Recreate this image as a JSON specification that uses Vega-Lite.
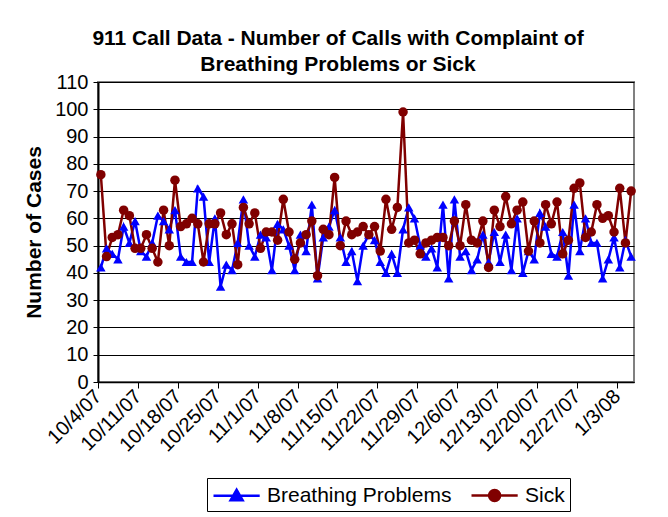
{
  "$schema": "https://vega.github.io/schema/vega-lite/v6.json",
  "autosize": {"type": "none"},
  "padding": {"left": 98, "top": 82, "right": 34, "bottom": 135},
  "width": 536,
  "height": 300,
  "background": "white",
  "title": {
    "text": ["911 Call Data - Number of Calls with Complaint of", "Breathing Problems or Sick"],
    "font": "Liberation Sans",
    "fontSize": 21,
    "fontWeight": "bold",
    "color": "black",
    "anchor": "middle",
    "dx": -28,
    "offset": -3,
    "lineHeight": 26
  },
  "config": {
    "view": {"stroke": "#808080", "strokeWidth": 2},
    "axis": {
      "labelFont": "Liberation Sans",
      "labelFontSize": 20,
      "labelColor": "black",
      "titleFont": "Liberation Sans",
      "titleColor": "black",
      "domainColor": "black",
      "tickColor": "black",
      "gridColor": "black",
      "gridOpacity": 1,
      "gridWidth": 1
    }
  },
  "data": {
    "values": [
      {"date": "2007-10-04", "Breathing Problems": 42, "Sick": 76},
      {"date": "2007-10-05", "Breathing Problems": 49, "Sick": 46},
      {"date": "2007-10-06", "Breathing Problems": 47, "Sick": 53},
      {"date": "2007-10-07", "Breathing Problems": 45, "Sick": 54},
      {"date": "2007-10-08", "Breathing Problems": 57, "Sick": 63},
      {"date": "2007-10-09", "Breathing Problems": 51, "Sick": 61},
      {"date": "2007-10-10", "Breathing Problems": 59, "Sick": 49},
      {"date": "2007-10-11", "Breathing Problems": 48, "Sick": 49},
      {"date": "2007-10-12", "Breathing Problems": 46, "Sick": 54},
      {"date": "2007-10-13", "Breathing Problems": 51, "Sick": 49},
      {"date": "2007-10-14", "Breathing Problems": 61, "Sick": 44},
      {"date": "2007-10-15", "Breathing Problems": 59, "Sick": 63},
      {"date": "2007-10-16", "Breathing Problems": 56, "Sick": 50},
      {"date": "2007-10-17", "Breathing Problems": 63, "Sick": 74},
      {"date": "2007-10-18", "Breathing Problems": 46, "Sick": 57},
      {"date": "2007-10-19", "Breathing Problems": 44, "Sick": 58},
      {"date": "2007-10-20", "Breathing Problems": 44, "Sick": 60},
      {"date": "2007-10-21", "Breathing Problems": 71, "Sick": 58},
      {"date": "2007-10-22", "Breathing Problems": 68, "Sick": 44},
      {"date": "2007-10-23", "Breathing Problems": 44, "Sick": 58},
      {"date": "2007-10-24", "Breathing Problems": 60, "Sick": 58},
      {"date": "2007-10-25", "Breathing Problems": 35, "Sick": 62},
      {"date": "2007-10-26", "Breathing Problems": 43, "Sick": 54},
      {"date": "2007-10-27", "Breathing Problems": 41, "Sick": 58},
      {"date": "2007-10-28", "Breathing Problems": 51, "Sick": 43},
      {"date": "2007-10-29", "Breathing Problems": 67, "Sick": 64},
      {"date": "2007-10-30", "Breathing Problems": 50, "Sick": 58},
      {"date": "2007-10-31", "Breathing Problems": 46, "Sick": 62},
      {"date": "2007-11-01", "Breathing Problems": 54, "Sick": 49},
      {"date": "2007-11-02", "Breathing Problems": 53, "Sick": 55},
      {"date": "2007-11-03", "Breathing Problems": 41, "Sick": 55},
      {"date": "2007-11-04", "Breathing Problems": 58, "Sick": 52},
      {"date": "2007-11-05", "Breathing Problems": 56, "Sick": 67},
      {"date": "2007-11-06", "Breathing Problems": 50, "Sick": 55},
      {"date": "2007-11-07", "Breathing Problems": 41, "Sick": 45},
      {"date": "2007-11-08", "Breathing Problems": 54, "Sick": 51},
      {"date": "2007-11-09", "Breathing Problems": 48, "Sick": 54},
      {"date": "2007-11-10", "Breathing Problems": 65, "Sick": 59},
      {"date": "2007-11-11", "Breathing Problems": 38, "Sick": 39},
      {"date": "2007-11-12", "Breathing Problems": 53, "Sick": 56},
      {"date": "2007-11-13", "Breathing Problems": 57, "Sick": 54},
      {"date": "2007-11-14", "Breathing Problems": 63, "Sick": 75},
      {"date": "2007-11-15", "Breathing Problems": 53, "Sick": 50},
      {"date": "2007-11-16", "Breathing Problems": 44, "Sick": 59},
      {"date": "2007-11-17", "Breathing Problems": 48, "Sick": 54},
      {"date": "2007-11-18", "Breathing Problems": 37, "Sick": 55},
      {"date": "2007-11-19", "Breathing Problems": 50, "Sick": 57},
      {"date": "2007-11-20", "Breathing Problems": 54, "Sick": 54},
      {"date": "2007-11-21", "Breathing Problems": 52, "Sick": 57},
      {"date": "2007-11-22", "Breathing Problems": 44, "Sick": 48},
      {"date": "2007-11-23", "Breathing Problems": 40, "Sick": 67},
      {"date": "2007-11-24", "Breathing Problems": 47, "Sick": 56},
      {"date": "2007-11-25", "Breathing Problems": 40, "Sick": 64},
      {"date": "2007-11-26", "Breathing Problems": 56, "Sick": 99},
      {"date": "2007-11-27", "Breathing Problems": 64, "Sick": 51},
      {"date": "2007-11-28", "Breathing Problems": 60, "Sick": 52},
      {"date": "2007-11-29", "Breathing Problems": 50, "Sick": 47},
      {"date": "2007-11-30", "Breathing Problems": 46, "Sick": 51},
      {"date": "2007-12-01", "Breathing Problems": 49, "Sick": 52},
      {"date": "2007-12-02", "Breathing Problems": 42, "Sick": 53},
      {"date": "2007-12-03", "Breathing Problems": 65, "Sick": 53},
      {"date": "2007-12-04", "Breathing Problems": 38, "Sick": 50},
      {"date": "2007-12-05", "Breathing Problems": 67, "Sick": 59},
      {"date": "2007-12-06", "Breathing Problems": 46, "Sick": 50},
      {"date": "2007-12-07", "Breathing Problems": 48, "Sick": 65},
      {"date": "2007-12-08", "Breathing Problems": 41, "Sick": 52},
      {"date": "2007-12-09", "Breathing Problems": 45, "Sick": 51},
      {"date": "2007-12-10", "Breathing Problems": 54, "Sick": 59},
      {"date": "2007-12-11", "Breathing Problems": 44, "Sick": 42},
      {"date": "2007-12-12", "Breathing Problems": 55, "Sick": 63},
      {"date": "2007-12-13", "Breathing Problems": 44, "Sick": 57},
      {"date": "2007-12-14", "Breathing Problems": 54, "Sick": 68},
      {"date": "2007-12-15", "Breathing Problems": 41, "Sick": 58},
      {"date": "2007-12-16", "Breathing Problems": 60, "Sick": 63},
      {"date": "2007-12-17", "Breathing Problems": 40, "Sick": 66},
      {"date": "2007-12-18", "Breathing Problems": 48, "Sick": 48},
      {"date": "2007-12-19", "Breathing Problems": 45, "Sick": 59},
      {"date": "2007-12-20", "Breathing Problems": 62, "Sick": 51},
      {"date": "2007-12-21", "Breathing Problems": 57, "Sick": 65},
      {"date": "2007-12-22", "Breathing Problems": 47, "Sick": 58},
      {"date": "2007-12-23", "Breathing Problems": 46, "Sick": 66},
      {"date": "2007-12-24", "Breathing Problems": 55, "Sick": 47},
      {"date": "2007-12-25", "Breathing Problems": 39, "Sick": 52},
      {"date": "2007-12-26", "Breathing Problems": 65, "Sick": 71},
      {"date": "2007-12-27", "Breathing Problems": 48, "Sick": 73},
      {"date": "2007-12-28", "Breathing Problems": 60, "Sick": 53},
      {"date": "2007-12-29", "Breathing Problems": 51, "Sick": 55},
      {"date": "2007-12-30", "Breathing Problems": 51, "Sick": 65},
      {"date": "2007-12-31", "Breathing Problems": 38, "Sick": 60},
      {"date": "2008-01-01", "Breathing Problems": 45, "Sick": 61},
      {"date": "2008-01-02", "Breathing Problems": 53, "Sick": 55},
      {"date": "2008-01-03", "Breathing Problems": 42, "Sick": 71},
      {"date": "2008-01-04", "Breathing Problems": 52, "Sick": 51},
      {"date": "2008-01-05", "Breathing Problems": 46, "Sick": 70}
    ]
  },
  "transform": [
    {"fold": ["Breathing Problems", "Sick"], "as": ["series", "value"]}
  ],
  "encoding": {
    "x": {
      "field": "date",
      "timeUnit": "utcyearmonthdate",
      "type": "temporal",
      "bandPosition": 0.5,
      "scale": {
        "type": "utc",
        "domain": [
          {"year": 2007, "month": 10, "date": 4, "utc": true},
          {"year": 2008, "month": 1, "date": 6, "utc": true}
        ]
      },
      "axis": {
        "title": null,
        "grid": false,
        "labelExpr": "utcFormat(datum.value, '%-m/%-d/%y')",
        "labelAngle": -45,
        "labelAlign": "right",
        "labelBaseline": "middle",
        "labelPadding": 5,
        "tickSize": 6,
        "tickWidth": 1,
        "domainWidth": 1.5,
        "labelOverlap": false,
        "labelFlush": false,
        "values": [
          {"year": 2007, "month": 10, "date": 4, "utc": true},
          {"year": 2007, "month": 10, "date": 11, "utc": true},
          {"year": 2007, "month": 10, "date": 18, "utc": true},
          {"year": 2007, "month": 10, "date": 25, "utc": true},
          {"year": 2007, "month": 11, "date": 1, "utc": true},
          {"year": 2007, "month": 11, "date": 8, "utc": true},
          {"year": 2007, "month": 11, "date": 15, "utc": true},
          {"year": 2007, "month": 11, "date": 22, "utc": true},
          {"year": 2007, "month": 11, "date": 29, "utc": true},
          {"year": 2007, "month": 12, "date": 6, "utc": true},
          {"year": 2007, "month": 12, "date": 13, "utc": true},
          {"year": 2007, "month": 12, "date": 20, "utc": true},
          {"year": 2007, "month": 12, "date": 27, "utc": true},
          {"year": 2008, "month": 1, "date": 3, "utc": true}
        ]
      }
    },
    "y": {
      "field": "value",
      "type": "quantitative",
      "scale": {"domain": [0, 110], "nice": false, "zero": true},
      "axis": {
        "title": "Number of Cases",
        "titleFontSize": 21,
        "titleFontWeight": "bold",
        "titlePadding": 10,
        "values": [0, 10, 20, 30, 40, 50, 60, 70, 80, 90, 100, 110],
        "tickSize": 5,
        "labelPadding": 5,
        "domainWidth": 2,
        "grid": true
      }
    },
    "color": {
      "field": "series",
      "type": "nominal",
      "scale": {"domain": ["Breathing Problems", "Sick"], "range": ["#0000ff", "#800000"]},
      "legend": {
        "title": null,
        "orient": "none",
        "legendX": 109,
        "legendY": 396,
        "direction": "horizontal",
        "labelFont": "Liberation Sans",
        "labelFontSize": 21,
        "labelColor": "black",
        "labelLimit": 0,
        "labelOffset": 30,
        "columnPadding": 14,
        "symbolSize": 484,
        "symbolStrokeWidth": 2.5,
        "strokeColor": "black",
        "padding": 5,
        "fillColor": "white",
        "encode": {
          "symbols": {
            "update": {
              "shape": {"signal": "datum.value == 'Sick' ? 'M-1,0L3.2,0M0.6,0A0.5,0.5,0,1,1,1.6,0A0.5,0.5,0,1,1,0.6,0Z' : 'M-1,0L3.2,0M0.55,0.42L1.1,-0.55L1.65,0.42Z'"},
              "fill": {"signal": "datum.value == 'Sick' ? '#800000' : '#0000ff'"},
              "stroke": {"signal": "datum.value == 'Sick' ? '#800000' : '#0000ff'"},
              "strokeWidth": {"value": 2.5},
              "opacity": {"value": 1}
            }
          }
        }
      }
    }
  },
  "layer": [
    {"mark": {"type": "line", "strokeWidth": 2.5}},
    {
      "transform": [{"filter": "datum.series == 'Breathing Problems'"}],
      "mark": {"type": "point", "filled": true, "opacity": 1, "size": 90, "shape": "triangle-up"}
    },
    {
      "transform": [{"filter": "datum.series == 'Sick'"}],
      "mark": {"type": "point", "filled": true, "opacity": 1, "size": 90, "shape": "circle"}
    }
  ]
}
